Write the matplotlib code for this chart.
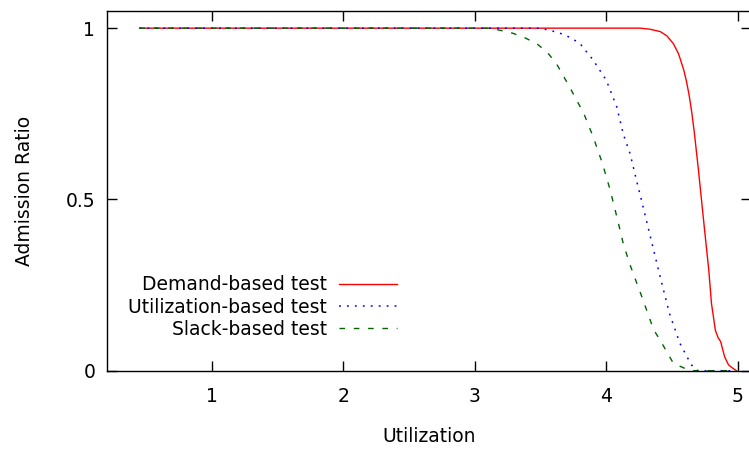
import matplotlib
matplotlib.use("Agg")
import matplotlib.pyplot as plt

# Admission ratio vs. utilization
demand_x = [0.45, 4.26, 4.33, 4.41, 4.46, 4.51, 4.55, 4.59, 4.61, 4.63, 4.65, 4.67, 4.70,
            4.74, 4.78, 4.80, 4.83, 4.85, 4.87, 4.90, 4.93, 4.96, 4.99]
demand_y = [1.0, 1.0, 0.997, 0.99, 0.978, 0.955, 0.925, 0.877, 0.845, 0.805, 0.755, 0.695, 0.59,
            0.44, 0.293, 0.197, 0.118, 0.097, 0.085, 0.041, 0.017, 0.008, 0.0]

util_x = [0.45, 3.47, 3.56, 3.65, 3.73, 3.80, 3.90, 4.00, 4.08, 4.13, 4.18, 4.24,
          4.26, 4.33, 4.41, 4.48, 4.56, 4.64, 4.67, 4.70, 4.99]
util_y = [1.0, 1.0, 0.995, 0.985, 0.972, 0.955, 0.907, 0.848, 0.77, 0.69, 0.635, 0.54,
          0.51, 0.40, 0.274, 0.168, 0.08, 0.022, 0.005, 0.0, 0.0]

slack_x = [0.45, 3.09, 3.19, 3.29, 3.38, 3.47, 3.55, 3.62, 3.72, 3.83, 3.90, 3.97,
           4.03, 4.08, 4.13, 4.18, 4.28, 4.36, 4.41, 4.51, 4.59, 4.65, 4.99]
slack_y = [1.0, 1.0, 0.994, 0.985, 0.972, 0.955, 0.93, 0.897, 0.829, 0.75, 0.683, 0.606,
           0.527, 0.45, 0.37, 0.31, 0.206, 0.12, 0.089, 0.022, 0.008, 0.0, 0.0]

x_ticks = [1, 2, 3, 4, 5]
y_ticks = [0, 0.5, 1]
y_tick_labels = ["0", "0.5", "1"]

plt.rcParams['font.family'] = ['DejaVu Sans']
fs = 13.5

fig = plt.figure(figsize=(7.49, 4.5), dpi=100)
ax = fig.add_axes([0.1425, 0.1762, 0.86, 0.7993])

ax.plot(demand_x, demand_y, color='#ff0000', lw=1.0, label="Demand-based test", clip_on=False)
ax.plot(util_x, util_y, color='#0000ff', lw=1.1, linestyle=(0, (1.2, 4.0)),
        label="Utilization-based test", clip_on=False)
ax.plot(slack_x, slack_y, color='#006400', lw=1.0, linestyle=(0, (4.0, 6.3)),
        label="Slack-based test", clip_on=False)

ax.set_xlim(0.2, 5.1)
ax.set_ylim(0, 1.05)
ax.set_xticks(x_ticks)
ax.set_yticks(y_ticks)
ax.set_yticklabels(y_tick_labels)

ax.tick_params(direction='in', length=7, width=1, top=True, right=True, labelsize=fs)
ax.tick_params(axis='x', pad=11.5)
ax.tick_params(axis='y', pad=8.3)
for s in ax.spines.values():
    s.set_linewidth(1.0)

ax.set_xlabel("Utilization", fontsize=fs)
ax.set_ylabel("Admission Ratio", fontsize=fs)
ax.xaxis.label.set_va('center')
ax.yaxis.label.set_va('center')
ax.xaxis.set_label_coords(0.5, -0.184)
ax.yaxis.set_label_coords(-0.127, 0.5)

ax.legend(loc='center right', bbox_to_anchor=(0.4507, 0.177), frameon=False,
          markerfirst=False, fontsize=fs, handlelength=3.1, handletextpad=0.64,
          labelspacing=0.17, borderpad=0, borderaxespad=0)

fig.savefig("out.png", dpi=100)
